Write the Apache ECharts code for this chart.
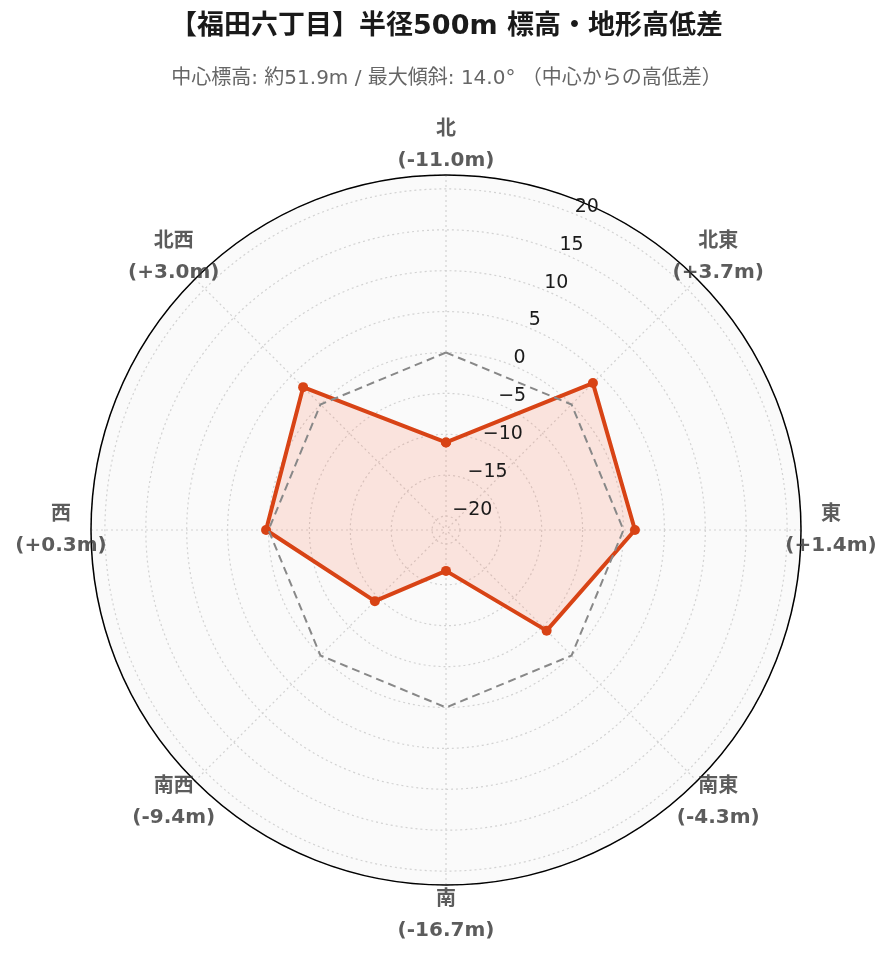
<!DOCTYPE html>
<html>
<head>
<meta charset="utf-8">
<script src="https://cdn.jsdelivr.net/npm/echarts@6/dist/echarts.min.js"></script>
<style>
html,body{margin:0;padding:0;background:#fff;}
#chart{width:893px;height:962px;}
</style>
</head>
<body>
<div id="chart"></div>
<script>
// ---- data ----
const titleText = '【福田六丁目】半径500m 標高・地形高低差';
const subtitleText = '中心標高: 約51.9m / 最大傾斜: 14.0° （中心からの高低差）';
const directions = ['北', '北東', '東', '南東', '南', '南西', '西', '北西'];
const heightDiff = [-11.0, 3.7, 1.4, -4.3, -16.7, -9.4, 0.3, 3.0];
const referenceLevel = 0;
const radialMin = -21.7;
const radialMax = 21.7;
const radialTicks = [-20, -15, -10, -5, 0, 5, 10, 15, 20];

// ---- build ----
const cx = 446, cy = 530, R = 355, labelR = 385;
const FONT = '"DejaVu Sans", "Noto Sans CJK JP", sans-serif';
const step = 360 / directions.length;
const GRID = {color: '#d2d2d2', type: [2, 3], width: 1.2};

function fmtDiff(v) {
  return '(' + (v >= 0 ? '+' : '') + v.toFixed(1) + 'm)';
}
// closed ring: [radius, angle] with the first point repeated at 360°
const closed = (arr) => arr.map((v, i) => [v, i * step]).concat([[arr[0], 360]]);
const refValues = directions.map(() => referenceLevel);

const chart = echarts.init(document.getElementById('chart'), null, {renderer: 'canvas'});
const option = {
  backgroundColor: '#ffffff',
  animation: false,
  title: [
    {
      text: titleText, left: 'center', top: 8,
      textStyle: {fontFamily: FONT, fontSize: 27, fontWeight: 'bold', color: '#1a1a1a'}
    },
    {
      text: subtitleText, left: 'center', top: 64,
      textStyle: {fontFamily: FONT, fontSize: 20, fontWeight: 'normal', color: '#666666'}
    }
  ],
  polar: [
    {center: [cx, cy], radius: R},          // grid + data
    {center: [cx + 1, cy - 7], radius: R},  // radial tick labels
    {center: [cx, cy], radius: labelR},     // direction labels
    {center: [cx, cy], radius: R}           // background disc
  ],
  angleAxis: [
    {
      polarIndex: 0, type: 'value', min: 0, max: 360, interval: step, startAngle: 90, clockwise: true,
      axisLine: {show: true, lineStyle: {color: '#000', width: 1.5}},
      axisTick: {show: false}, axisLabel: {show: false},
      splitLine: {show: true, lineStyle: GRID},
      splitArea: {show: false},
      z: 2
    },
    {
      polarIndex: 1, type: 'value', min: 0, max: 360, startAngle: 68, show: false
    },
    {
      polarIndex: 2, type: 'category', data: directions, startAngle: 90, clockwise: true, boundaryGap: false, show: false
    },
    {
      polarIndex: 3, type: 'value', min: 0, max: 360, interval: step, startAngle: 90,
      axisLine: {show: false}, axisTick: {show: false}, axisLabel: {show: false}, splitLine: {show: false},
      splitArea: {show: true, areaStyle: {color: ['#fafafa', '#fafafa']}},
      z: 0
    }
  ],
  radiusAxis: [
    {
      polarIndex: 0, type: 'value', min: radialMin, max: radialMax, splitNumber: 9,
      axisLine: {show: false}, axisTick: {show: false}, axisLabel: {show: false},
      splitLine: {show: true, lineStyle: GRID},
      z: 1
    },
    {
      polarIndex: 1, type: 'value', min: radialMin, max: radialMax, splitNumber: 9,
      axisLine: {show: false}, axisTick: {show: false}, splitLine: {show: false},
      axisLabel: {
        show: true, showMinLabel: false, showMaxLabel: false, margin: 0,
        align: 'left', verticalAlign: 'middle',
        fontFamily: FONT, fontSize: 19, color: '#1a1a1a',
        formatter: (v) => radialTicks.indexOf(Math.round(v)) >= 0 && Math.abs(v - Math.round(v)) < 1e-6
          ? (v < 0 ? '\u2212' + Math.abs(v) : String(v)) : ''
      },
      z: 5
    },
    {
      polarIndex: 2, type: 'value', min: 0, max: 1, show: false
    },
    {
      polarIndex: 3, type: 'value', min: 0, max: 1, show: false
    }
  ],
  series: [
    {
      type: 'line', coordinateSystem: 'polar', polarIndex: 0,
      data: closed(heightDiff), clip: false,
      symbol: 'circle', symbolSize: 10, showSymbol: true,
      lineStyle: {color: '#d84315', width: 4},
      itemStyle: {color: '#d84315'},
      areaStyle: {color: 'rgba(255, 100, 60, 0.21)', origin: 'start'},
      z: 3, silent: true
    },
    {
      type: 'line', coordinateSystem: 'polar', polarIndex: 0,
      data: closed(refValues), clip: false,
      showSymbol: false, symbol: 'none',
      lineStyle: {color: '#888888', width: 2, type: [8, 5]},
      z: 4, silent: true
    },
    {
      type: 'scatter', coordinateSystem: 'polar', polarIndex: 2,
      data: directions.map((d, i) => [1, i]),
      symbolSize: 0, clip: false, silent: true,
      label: {
        show: true, position: 'inside', align: 'center', verticalAlign: 'middle',
        formatter: (p) => '{a|' + directions[p.dataIndex] + '}\n{b|' + fmtDiff(heightDiff[p.dataIndex]) + '}',
        rich: {
          a: {fontFamily: FONT, fontSize: 20, fontWeight: 'bold', color: '#333333', lineHeight: 31, align: 'center'},
          b: {fontFamily: FONT, fontSize: 20, fontWeight: 'bold', color: '#333333', lineHeight: 31, align: 'center'}
        }
      },
      z: 6
    }
  ]
};
chart.setOption(option);
</script>
</body>
</html>
